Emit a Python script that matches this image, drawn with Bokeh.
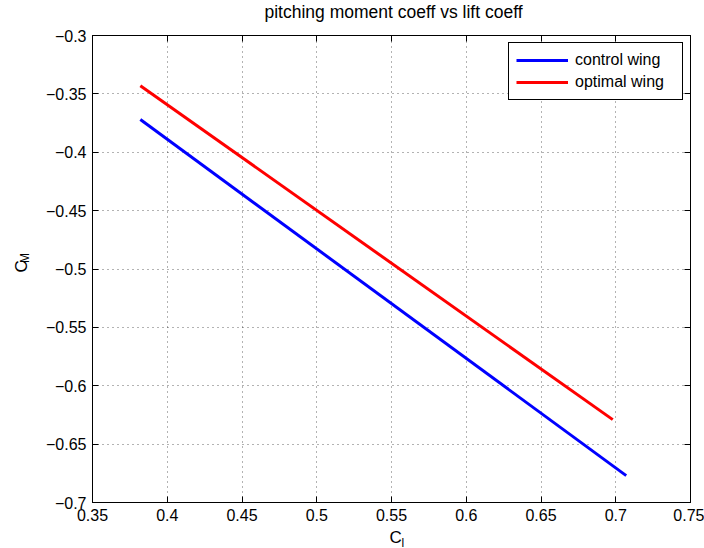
from bokeh.plotting import figure
from bokeh.layouts import row
from bokeh.models import (ColumnDataSource, FixedTicker, LinearAxis, Label,
                          Range1d, Legend, LegendItem)
from bokeh.core.properties import value
from bokeh.embed import file_html
from bokeh.resources import INLINE

# Lift coefficient vs pitching moment coefficient for two wing designs
control_cl = [0.382, 0.707]
control_cm = [-0.372, -0.677]
optimal_cl = [0.382, 0.698]
optimal_cm = [-0.343, -0.629]

x_ticks = [0.35, 0.4, 0.45, 0.5, 0.55, 0.6, 0.65, 0.7, 0.75]
x_tick_labels = ["0.35", "0.4", "0.45", "0.5", "0.55", "0.6", "0.65", "0.7", "0.75"]
y_ticks = [-0.7, -0.65, -0.6, -0.55, -0.5, -0.45, -0.4, -0.35, -0.3]
y_tick_labels = ["\u22120.7", "\u22120.65", "\u22120.6", "\u22120.55", "\u22120.5",
                 "\u22120.45", "\u22120.4", "\u22120.35", "\u22120.3"]

FONT = "Liberation Sans"
X0, X1 = 0.35, 0.75
Y0, Y1 = -0.7, -0.3
XMID = 0.55
W, H = 704, 548
STRIP = 40          # width of the strip holding the vertical axis title

p = figure(width=W - STRIP, height=H, output_backend="svg", toolbar_location=None,
           x_range=Range1d(X0, X1), y_range=Range1d(Y0, Y1),
           min_border_left=92 - STRIP, min_border_right=14, min_border_top=35,
           min_border_bottom=46, x_axis_location="below", y_axis_location="left")

p.outline_line_color = "black"
p.outline_line_width = 1
p.background_fill_color = "white"
p.border_fill_color = "white"

for ax in (p.xaxis[0], p.yaxis[0]):
    ax.major_label_text_font = FONT
    ax.major_label_text_font_size = "16px"
    ax.major_label_text_color = "black"
    ax.axis_line_color = "black"
    ax.major_tick_line_color = "black"
    ax.major_tick_in = 6
    ax.major_tick_out = 0
    ax.minor_tick_line_color = None
p.xaxis[0].major_label_standoff = 6
p.yaxis[0].major_label_standoff = 6

p.xaxis[0].ticker = FixedTicker(ticks=x_ticks)
p.xaxis[0].major_label_overrides = dict(zip(x_ticks, x_tick_labels))
p.yaxis[0].ticker = FixedTicker(ticks=y_ticks)
p.yaxis[0].major_label_overrides = dict(zip(y_ticks, y_tick_labels))

# Mirror ticks on the top and right edges of the box
for side, ticks in (("above", x_ticks), ("right", y_ticks)):
    ax = LinearAxis(ticker=FixedTicker(ticks=ticks))
    ax.major_label_text_font_size = "0px"
    ax.major_label_standoff = 0
    ax.major_tick_in = 6
    ax.major_tick_out = 0
    ax.minor_tick_line_color = None
    ax.axis_line_color = "black"
    ax.major_tick_line_color = "black"
    p.add_layout(ax, side)

p.xgrid.ticker = FixedTicker(ticks=x_ticks)
p.ygrid.ticker = FixedTicker(ticks=y_ticks)
p.grid.grid_line_color = "black"
p.grid.grid_line_alpha = 0.6
p.grid.grid_line_dash = "1 4"
p.grid.grid_line_width = 1

src_c = ColumnDataSource(dict(x=control_cl, y=control_cm))
src_o = ColumnDataSource(dict(x=optimal_cl, y=optimal_cm))
r_c = p.line("x", "y", source=src_c, line_color="#0000ff", line_width=3)
r_o = p.line("x", "y", source=src_o, line_color="#ff0000", line_width=3)

legend = Legend(items=[LegendItem(label="control wing", renderers=[r_c]),
                       LegendItem(label="optimal wing", renderers=[r_o])],
                location="top_right")
legend.label_text_font = FONT
legend.label_text_font_size = "16px"
legend.label_text_color = "black"
legend.border_line_color = "black"
legend.border_line_width = 1
legend.border_line_alpha = 1
legend.background_fill_color = "white"
legend.background_fill_alpha = 1
legend.glyph_width = 52
legend.glyph_height = 20
legend.label_height = 20
legend.label_width = 100
legend.spacing = 2
legend.padding = 7
legend.margin = 7
legend.label_standoff = 7
p.add_layout(legend)


def text_label(text, x, y, dx, dy, size, align="left"):
    """A label anchored at a data point and nudged by pixel offsets."""
    return Label(x=x, y=y, x_offset=dx, y_offset=dy, text=text,
                 text_font=FONT, text_font_size=size, text_align=align,
                 text_baseline="alphabetic", text_color="black")


# Title and horizontal axis title (with subscript) sit in the side panels
# so that the plotting frame does not clip them.
p.add_layout(text_label("pitching moment coeff vs lift coeff", XMID, Y1, 2, 24,
                        "17.5px", align="center"), "above")
p.add_layout(text_label("C", XMID, Y0, -2, -35, "17px"), "below")
p.add_layout(text_label("l", XMID, Y0, 10, -40, "12px"), "right")

# Narrow strip on the left carrying the rotated vertical axis title C_M;
# its ranges are in pixels so the text can be placed precisely.
strip = figure(width=STRIP, height=H, output_backend="svg", toolbar_location=None,
               x_range=Range1d(0, STRIP), y_range=Range1d(0, H),
               min_border=0, x_axis_location=None, y_axis_location=None)
strip.outline_line_color = None
strip.grid.visible = False
strip.background_fill_color = "white"
strip.border_fill_color = "white"
strip.text(x=[21], y=[H - 278], text=["C"], angle=90, angle_units="deg",
           text_font=value(FONT), text_font_size="17px", text_align="left",
           text_baseline="alphabetic", text_color="black")
strip.text(x=[24.5], y=[H - 267], text=["M"], angle=90, angle_units="deg",
           text_font=value(FONT), text_font_size="12px", text_align="left",
           text_baseline="alphabetic", text_color="black")

layout = row(strip, p, spacing=0)
open("out.html", "w").write(file_html(layout, INLINE))
